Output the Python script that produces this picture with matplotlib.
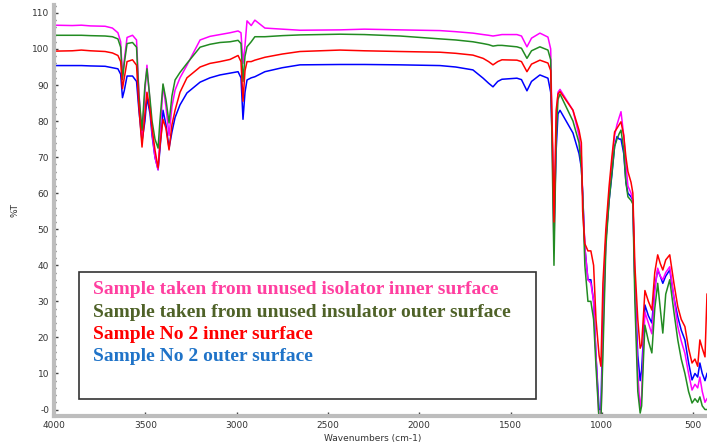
import matplotlib
matplotlib.use('Agg')
import matplotlib.pyplot as plt
from matplotlib.patches import Rectangle
from matplotlib.ticker import MultipleLocator

# wavenumbers (cm-1) shared by all four spectra
wavenumber = [4000, 3900, 3850, 3800, 3720, 3680, 3650, 3635, 3625, 3615,
              3600, 3570, 3548, 3535, 3518, 3502, 3491, 3474, 3463, 3447,
              3430, 3420, 3403, 3387, 3370, 3354, 3337, 3310, 3272, 3200,
              3146, 3091, 3036, 2992, 2976, 2965, 2954, 2943, 2920, 2900,
              2845, 2750, 2653, 2434, 2300, 2105, 1886, 1800, 1706, 1650,
              1620, 1596, 1570, 1547, 1465, 1440, 1410, 1385, 1339, 1295,
              1280, 1270, 1262, 1250, 1240, 1229, 1158, 1125, 1112, 1105,
              1093, 1076, 1060, 1045, 1032, 1015, 1005, 994, 978, 960,
              945, 930, 917, 905, 895, 880, 868, 857, 840, 830,
              819, 803, 790, 782, 772, 764, 745, 726, 710, 694,
              680, 666, 650, 628, 605, 584, 565, 545, 525, 506,
              490, 475, 463, 450, 435, 424]

# %T, sample taken from unused isolator inner surface
unused_inner = [106.6, 106.5, 106.6, 106.4, 106.3, 105.8, 104.5, 102, 92.5, 97,
                103.2, 103.8, 102.5, 88, 75, 88, 95.5, 85, 77, 70,
                66.5, 75, 90, 84, 76, 84, 88.6, 92, 95.5, 102.5,
                103.5, 104, 104.5, 105, 104.5, 96, 101, 107.8, 106.5, 108,
                105.8, 105.5, 105.2, 105.3, 105.5, 105.3, 105.1, 104.8, 104.4, 104,
                103.8, 103.6, 103.8, 104, 104, 103.6, 100.6, 103, 104.4, 103.3,
                100, 70, 45, 80, 88, 88.8, 83, 76, 70, 60,
                45, 36, 35, 30, 15, -3, -3, 20, 47, 60,
                68, 76, 79, 81, 82.6, 76, 68, 62, 60, 58,
                35, 10, 0, 4, 18, 27, 24, 21, 33, 39.2,
                37, 36, 38, 39.6, 31, 23, 19, 15.6, 10, 5.4,
                7, 6, 9, 5, 2, 3]

# %T, sample taken from unused insulator outer surface
unused_outer = [103.8, 103.8, 103.8, 103.7, 103.6, 103.4, 102.8, 100.5, 91.5, 96,
                101.5, 101.8, 100.5, 87, 77.5, 90, 94.5, 86, 80, 75,
                72.5, 80, 90.3, 86, 79.5, 87, 91.4, 93.5, 96, 100.5,
                101.3, 101.8, 102, 102.4, 101.5, 91, 98, 100.6, 102, 103.4,
                103.4, 103.7, 103.9, 104.1, 104, 103.6, 102.8, 102.5, 102, 101.5,
                101.2, 100.8, 101, 101, 100.6, 100.2, 97.4, 99.5, 100.6, 99.7,
                97, 65, 40, 75, 86, 87.5, 80, 74, 67, 60,
                40, 30, 30, 25, 12, -3, -3, 15, 45, 58,
                65.6, 73, 75, 76.5, 77.5, 72, 63, 59, 58, 57,
                30, 5, -1, 1, 14, 23.4, 19, 15.7, 28, 35,
                28, 21.2, 32, 36, 27, 19.3, 14, 10, 5, 1.8,
                3, 2, 3.5, 1, 0, 0]

# %T, sample No 2 inner surface
no2_inner = [99.4, 99.5, 99.7, 99.5, 99.3, 98.9, 98.2, 96.5, 89, 92,
             96.5, 97, 95.5, 84, 72.8, 82, 88, 83, 78, 72,
             67, 73, 80.5, 78, 72, 79, 83, 88, 92, 95,
             96, 96.5, 97.1, 98.2, 96.5, 85.5, 94, 96.5, 96.5, 96.9,
             97.7, 98.6, 99.3, 99.7, 99.5, 99.3, 99.1, 98.8, 98.3, 97.4,
             96.5, 95.6, 96.5, 97, 96.9, 96.5, 93.7, 95.8, 96.9, 96.1,
             94, 75, 52, 83, 87.5, 88.2, 83, 77.5, 74, 55,
             46, 44, 44, 40, 25, 15, 12, 35, 50, 62,
             70, 77, 78, 79, 79.8, 76, 70, 66, 63, 60,
             40, 25, 17, 18, 26, 33, 30, 27.6, 38, 42.9,
             40.5, 38.7, 41.5, 42.9, 35, 28.5, 25, 23, 17, 12.9,
             14, 12, 19.3, 17, 14.6, 32]

# %T, sample No 2 outer surface
no2_outer = [95.4, 95.4, 95.4, 95.3, 95.2, 94.8, 94.5, 93, 86.5, 88.5,
             92.5, 92.5, 91, 83, 74.5, 80, 86.5, 82, 76, 70,
             66.5, 72, 83, 79, 72.5, 77, 81, 84.5, 87.8, 90.8,
             92, 92.8, 93.3, 93.7, 92, 80.5, 88, 91.4, 92, 92.3,
             93.7, 94.8, 95.6, 95.7, 95.7, 95.6, 95.4, 95, 94.2, 91.9,
             90.5, 89.5, 91, 91.6, 91.9, 91.5, 88.4, 91, 92.8, 91.9,
             88, 72, 50, 72, 82, 83, 76.7, 71, 67, 60,
             45, 36, 36, 30, 15, 0, 0, 25, 47, 58,
             65, 73, 75.7, 75, 75, 71, 63, 60, 59, 58,
             35, 15, 8, 11, 20, 29, 26, 24, 34, 38.7,
             37, 35, 37, 38.7, 31, 25.7, 22, 19.3, 13, 8.2,
             10, 9, 12.9, 10, 8, 10]

legend_labels = ['Sample taken from unused isolator inner surface',
                 'Sample taken from unused insulator outer surface',
                 'Sample No 2 inner surface',
                 'Sample No 2 outer surface']
legend_colors = ['#ff3fa0', '#4f6228', '#ff0000', '#1f73c8']

fig = plt.figure(figsize=(7.07, 4.42), dpi=100)
ax = fig.add_axes([54 / 707, 26 / 442, 653 / 707, 411 / 442])

ax.plot(wavenumber, no2_outer, color='#0000ff', lw=1.1)
ax.plot(wavenumber, unused_inner, color='#ff00ff', lw=1.1)
ax.plot(wavenumber, unused_outer, color='#228b22', lw=1.1)
ax.plot(wavenumber, no2_inner, color='#ff0000', lw=1.1)

ax.set_xlim(4000, 424)
ax.set_ylim(-1.8, 112.2)

ax.set_xticks([4000, 3500, 3000, 2500, 2000, 1500, 1000, 500])
ax.xaxis.set_minor_locator(MultipleLocator(250))
ax.set_yticks(range(0, 111, 10))
ax.set_yticklabels(['-0'] + [str(v) for v in range(10, 111, 10)])
ax.yaxis.set_minor_locator(MultipleLocator(2))

for side in ['top', 'right']:
    ax.spines[side].set_visible(False)
for side in ['left', 'bottom']:
    ax.spines[side].set_color('#bdbdbd')
    ax.spines[side].set_linewidth(3)
ax.tick_params(which='both', direction='in', color='#444444', labelsize=6.5,
               labelcolor='#333333')
ax.tick_params(which='major', length=3, width=1)
ax.tick_params(which='minor', length=1.5, width=1)

fig.text(15 / 707, 1 - 210 / 442, '%T', rotation=90, fontsize=6.5,
         color='#333333', ha='center', va='center')
fig.text(373 / 707, 3 / 442, 'Wavenumbers (cm-1)', fontsize=6.5,
         color='#333333', ha='center', va='center')

# legend box drawn as text in figure coordinates
fig.patches.append(Rectangle((79 / 707, 1 - 399 / 442), 457 / 707, 127 / 442,
                             transform=fig.transFigure, fill=False,
                             edgecolor='#333333', lw=1.2))
for i, (lab, col) in enumerate(zip(legend_labels, legend_colors)):
    fig.text(93 / 707, 1 - (290 + 22.3 * i) / 442, lab, color=col,
             fontsize=14, fontweight='bold', family='Liberation Serif',
             ha='left', va='center')

fig.savefig('out.png', dpi=100)
